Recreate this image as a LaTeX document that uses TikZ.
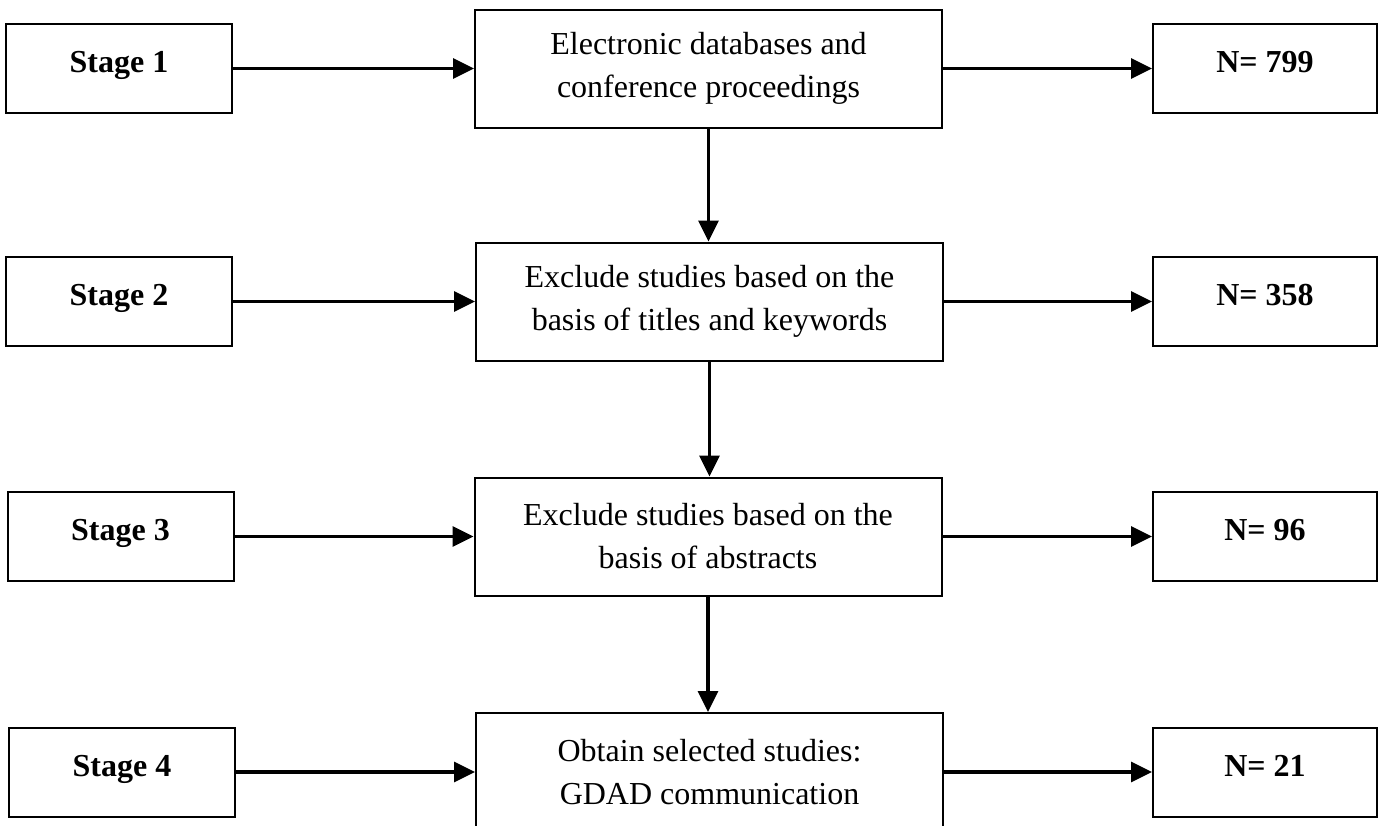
\documentclass[tikz,border=0pt]{standalone}
\usepackage{fontspec}
\setmainfont{Liberation Serif}
\usepackage{tikz}
\usetikzlibrary{arrows.meta}

\begin{document}
\begin{tikzpicture}[x=0.5pt,y=-0.5pt,
    every node/.style={draw=black,line width=1pt,font=\fontsize{16}{21.5}\selectfont},
    stagebox/.style={minimum width=113pt,minimum height=44.5pt,inner sep=0pt,font=\fontsize{16}{21.5}\selectfont\bfseries,text height=11pt,text depth=7pt},
    stepbox/.style={minimum width=233.5pt,minimum height=59pt,inner sep=0pt,align=center},
    countbox/.style={minimum width=112pt,minimum height=44.5pt,inner sep=0pt,font=\fontsize{16}{21.5}\selectfont\bfseries,text height=11pt,text depth=7pt},
    arr/.style={line width=1.6pt,-{Triangle[length=10.5pt,width=10pt]}}]
  	\useasboundingbox (0,0) rectangle (1384,825);

  	\node[stagebox] (s1) at (119,68.5) {Stage 1};
  	\node[stagebox] (s2) at (119,301.5) {Stage 2};
  	\node[stagebox] (s3) at (120.5,536.5) {Stage 3};
  	\node[stagebox] (s4) at (122,772) {Stage 4};

  	\node[stepbox] (m1) at (708.5,68.5) {Electronic databases and\\conference proceedings};
  	\node[stepbox] (m2) at (709.5,301.5) {Exclude studies based on the\\basis of titles and keywords};
  	\node[stepbox] (m3) at (708,536.5) {Exclude studies based on the\\basis of abstracts};
  	\node[stepbox] (m4) at (709.5,772) {Obtain selected studies:\\GDAD communication};

  	\node[countbox] (n1) at (1265,68.5) {N= 799};
  	\node[countbox] (n2) at (1265,301.5) {N= 358};
  	\node[countbox] (n3) at (1265,536.5) {N= 96};
  	\node[countbox] (n4) at (1265,772) {N= 21};

	\draw[arr] (s1) -- (m1);
	\draw[arr] (s2) -- (m2);
	\draw[arr] (s3) -- (m3);
	\draw[arr] (s4) -- (m4);

	\draw[arr] (m1) -- (n1);
	\draw[arr] (m2) -- (n2);
	\draw[arr] (m3) -- (n3);
	\draw[arr] (m4) -- (n4);

	\draw[arr] (m1.south) -- (m1.south |- m2.north);
	\draw[arr] (m2.south) -- (m2.south |- m3.north);
	\draw[arr] (m3.south) -- (m3.south |- m4.north);
  	
\end{tikzpicture}
\end{document}
